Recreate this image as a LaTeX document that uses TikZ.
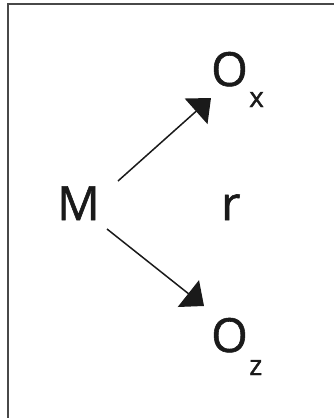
\documentclass[tikz,border=0pt]{standalone}
\usepackage{fontspec}
\setmainfont{Open Sans}
\newfontfamily\heavy{Open Sans}[FakeBold=1.2]
\usetikzlibrary{arrows.meta}
\definecolor{ink}{HTML}{1A1A1A}
\tikzset{
  lbl/.style={anchor=base west, inner sep=0pt, text=ink, font=\heavy\fontsize{47}{47}\selectfont},
  sub/.style={anchor=base west, inner sep=0pt, text=ink, font=\heavy\fontsize{28}{28}\selectfont},
  conn/.style={draw=ink, line width=1.5pt, -{Triangle[length=20pt, width=34pt]}},
  frame/.style={draw=ink!80, line width=1.2pt}
}
\begin{document}
\begin{tikzpicture}[x=1pt,y=1pt]
\useasboundingbox (0,0) rectangle (334,-418);
\draw[frame] (8,-418) -- (8,-4) -- (334,-4);
\node[lbl] (M) at (57,-220) {M};
\node[lbl] (r) at (221,-220) {r};
\node[lbl] (Ox) at (211,-86) {O};
\node[sub] (x) at (249,-107) {x};
\node[lbl] (Oz) at (211,-352) {O};
\node[sub] (z) at (249,-375) {z};
\coordinate (s1) at (118,-181);
\coordinate (t1) at (211,-98);
\coordinate (s2) at (107,-229);
\coordinate (t2) at (204,-306);
\draw[conn] (s1) -- (t1);
\draw[conn] (s2) -- (t2);
\end{tikzpicture}
\end{document}
